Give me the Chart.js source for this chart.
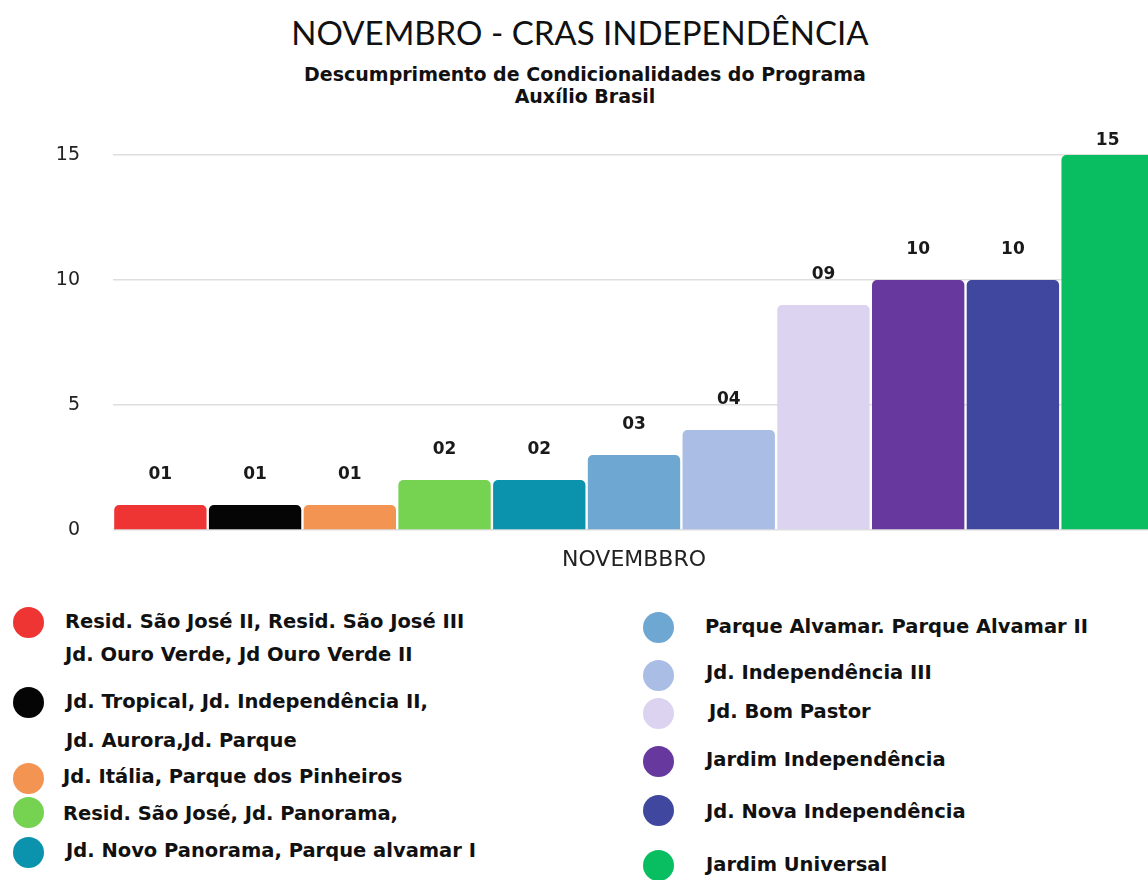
<!DOCTYPE html>
<html>
<head>
<meta charset="utf-8">
<script src="https://cdn.jsdelivr.net/npm/chart.js@4.4.1/dist/chart.umd.min.js"></script>
<style>
  html, body { margin: 0; padding: 0; background: #fff; overflow: hidden; }
  body { width: 1148px; height: 880px; position: relative; font-family: "DejaVu Sans", sans-serif; color: #1a1a1a; }
  #title { position: absolute; left: 0; width: 1160px; top: 12px; text-align: center; font-family: Lato, sans-serif; font-size: 33px; color: #111; }
  #subtitle { position: absolute; left: 0; width: 1170px; top: 63px; text-align: center; font-weight: 700; font-size: 19px; line-height: 22px; color: #111; }
  #chart-wrap { position: absolute; left: 0; top: 130px; width: 1155px; height: 460px; }
  .legend-dot { position: absolute; width: 31px; height: 31px; border-radius: 50%; }
  .legend-line { position: absolute; height: 30px; line-height: 30px; font-weight: 700; font-size: 19.5px; color: #111; white-space: nowrap; }
</style>
</head>
<body>
<div id="title">NOVEMBRO - CRAS INDEPENDÊNCIA</div>
<div id="subtitle">Descumprimento de Condicionalidades do Programa<br>Auxílio Brasil</div>
<div id="chart-wrap"><canvas id="chart"></canvas></div>
<div id="legend"></div>
<script>
const categories = ['NOVEMBBRO'];

const neighborhoods = [
    ['Resid. São José II, Resid. São José III', 'Jd. Ouro Verde, Jd Ouro Verde II'],
    ['Jd. Tropical, Jd. Independência II,', 'Jd. Aurora,Jd. Parque'],
    ['Jd. Itália, Parque dos Pinheiros'],
    ['Resid. São José, Jd. Panorama,'],
    ['Jd. Novo Panorama, Parque alvamar I'],
    ['Parque Alvamar. Parque Alvamar II'],
    ['Jd. Independência III'],
    ['Jd. Bom Pastor'],
    ['Jardim Independência'],
    ['Jd. Nova Independência'],
    ['Jardim Universal']
];

const counts = [1, 1, 1, 2, 2, 3, 4, 9, 10, 10, 15];

const barColors = ['#ef3434', '#050505', '#f39453', '#76d352', '#0b93ad', '#6ea8d2',
                   '#a9bde5', '#dcd3f1', '#67399f', '#3f489e', '#08be61'];

const yTicks = [0, 5, 10, 15];

// legend layout (page px): dot centre x/y, text left x, centre y of each text line
const dotX = [28, 28, 28, 28, 28, 658, 658, 658, 658, 658, 658];
const dotY = [622, 702, 778, 812, 852, 627, 675, 713, 761, 810, 865];
const textX = [65, 66, 63, 63, 66, 705, 706, 709, 706, 706, 706];
const textY = [[622, 655], [702, 741], [777], [814], [851], [627], [673], [712], [760], [812], [865]];

const legendEl = document.getElementById('legend');
neighborhoods.forEach((lines, i) => {
    const dot = document.createElement('div');
    dot.className = 'legend-dot';
    dot.style.background = barColors[i];
    dot.style.left = (dotX[i] - 15.5) + 'px';
    dot.style.top = (dotY[i] - 15.5) + 'px';
    legendEl.appendChild(dot);
    lines.forEach((txt, j) => {
        const line = document.createElement('div');
        line.className = 'legend-line';
        line.textContent = txt;
        line.style.left = textX[i] + 'px';
        line.style.top = (textY[i][j] - 15) + 'px';
        legendEl.appendChild(line);
    });
});

// numbers above bars, written as 01, 02, ...
const valueLabels = {
    id: 'valueLabels',
    afterDatasetsDraw(chart) {
        const ctx = chart.ctx;
        ctx.save();
        ctx.font = 'bold 17px "DejaVu Sans"';
        ctx.fillStyle = '#1a1a1a';
        ctx.textAlign = 'center';
        ctx.textBaseline = 'middle';
        chart.data.datasets.forEach((ds, i) => {
            const bar = chart.getDatasetMeta(i).data[0];
            const txt = String(ds.data[0]).padStart(2, '0');
            ctx.fillText(txt, bar.x, Math.max(bar.y - 30, 11));
        });
        ctx.restore();
    }
};

new Chart(document.getElementById('chart'), {
    type: 'bar',
    data: {
        labels: categories,
        datasets: counts.map((v, i) => ({
            label: neighborhoods[i].join(' '),
            data: [v],
            backgroundColor: barColors[i],
            borderRadius: { topLeft: 5, topRight: 5 },
            borderSkipped: 'bottom',
            barPercentage: 0.975,
            categoryPercentage: 1
        }))
    },
    options: {
        responsive: true,
        maintainAspectRatio: false,
        animation: false,
        layout: { padding: { top: 25, right: 0, left: 0, bottom: 0 } },
        scales: {
            y: {
                min: 0, max: 15,
                afterFit: axis => {
                    axis.width = 113;
                    axis.paddingTop = 0;
                    axis.paddingBottom = 0;
                },
                afterBuildTicks: axis => { axis.ticks = yTicks.map(v => ({ value: v })); },
                grid: { color: '#dedede', lineWidth: 1.5, drawTicks: false },
                border: { display: false },
                ticks: { padding: 33, color: '#222', font: { family: 'DejaVu Sans', size: 19 } }
            },
            x: {
                afterFit: axis => { axis.height = 60; },
                grid: { display: false },
                border: { display: false },
                ticks: { padding: 9, color: '#222', font: { family: 'DejaVu Sans', size: 22 } }
            }
        },
        plugins: {
            legend: { display: false },
            tooltip: { enabled: false }
        }
    },
    plugins: [valueLabels]
});
</script>
</body>
</html>
